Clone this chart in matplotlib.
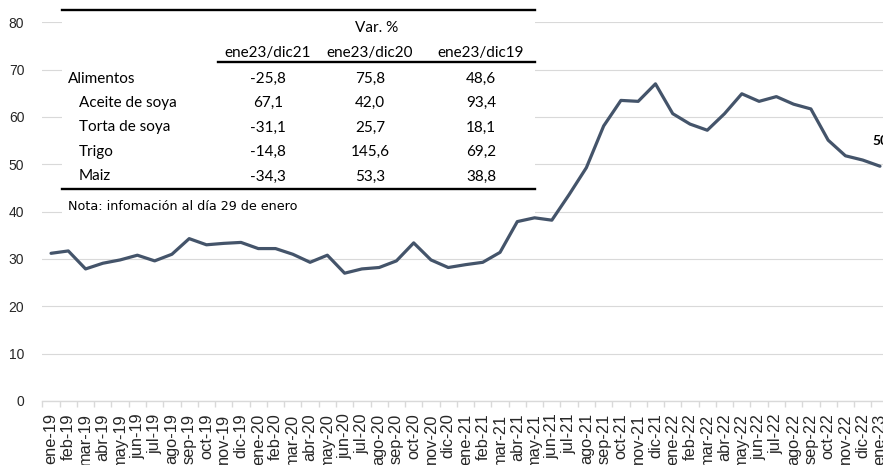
import matplotlib.pyplot as plt
from matplotlib.patches import Rectangle
from matplotlib.lines import Line2D

# serie mensual (indice de precios de alimentos)
meses = ['ene-19', 'feb-19', 'mar-19', 'abr-19', 'may-19', 'jun-19', 'jul-19', 'ago-19',
         'sep-19', 'oct-19', 'nov-19', 'dic-19',
         'ene-20', 'feb-20', 'mar-20', 'abr-20', 'may-20', 'jun-20', 'jul-20', 'ago-20',
         'sep-20', 'oct-20', 'nov-20', 'dic-20',
         'ene-21', 'feb-21', 'mar-21', 'abr-21', 'may-21', 'jun-21', 'jul-21', 'ago-21',
         'sep-21', 'oct-21', 'nov-21', 'dic-21',
         'ene-22', 'feb-22', 'mar-22', 'abr-22', 'may-22', 'jun-22', 'jul-22', 'ago-22',
         'sep-22', 'oct-22', 'nov-22', 'dic-22', 'ene-23']
valores = [31.2, 31.7, 27.9, 29.1, 29.8, 30.8, 29.6, 31.0, 34.3, 33.0, 33.3, 33.5,
           32.2, 32.2, 31.0, 29.3, 30.8, 27.0, 27.9, 28.2, 29.6, 33.4, 29.8, 28.2,
           28.8, 29.3, 31.4, 37.9, 38.7, 38.2, 43.6, 49.3, 58.1, 63.5, 63.3, 67.0,
           60.7, 58.5, 57.2, 60.7, 64.9, 63.3, 64.3, 62.7, 61.7, 55.1, 51.8, 50.9, 49.6]
etiqueta_final = '50'

# tabla de variaciones
columnas = ['ene23/dic21', 'ene23/dic20', 'ene23/dic19']
filas = ['Alimentos', 'Aceite de soya', 'Torta de soya', 'Trigo', 'Maiz']
var_dic21 = ['-25,8', '67,1', '-31,1', '-14,8', '-34,3']
var_dic20 = ['75,8', '42,0', '25,7', '145,6', '53,3']
var_dic19 = ['48,6', '93,4', '18,1', '69,2', '38,8']
nota = 'Nota: infomación al día 29 de enero'

W, H = 883, 465
fig = plt.figure(figsize=(W / 100, H / 100), dpi=100)
ax = fig.add_axes([42.4 / W, 1 - 401 / H, 846.2 / W, (401 - 22.3) / H])

x = list(range(len(meses)))
ax.plot(x, valores, color='#44546A', lw=2.3, solid_joinstyle='round', solid_capstyle='round')

ax.set_xlim(-0.5, len(meses) - 0.5)
ax.set_ylim(0, 80)
ax.set_yticks(range(0, 81, 10))
ax.grid(axis='y', color='#D9D9D9', lw=0.8)
ax.set_axisbelow(True)
for s in ['top', 'right', 'left']:
    ax.spines[s].set_visible(False)
ax.spines['bottom'].set_color('#D9D9D9')
ax.spines['bottom'].set_linewidth(1)

ax.set_xticks(x)
ax.set_xticklabels(meses, rotation=90, fontsize=11.8, family='Liberation Sans', color='#262626')
ax.set_xticks([i - 0.5 for i in range(len(meses) + 1)], minor=True)
ax.tick_params(axis='x', which='major', length=0, pad=9)
ax.tick_params(axis='x', which='minor', length=4, color='#D9D9D9', width=1)
ax.tick_params(axis='y', length=0, pad=13, labelsize=10, labelcolor='#262626')
for t in ax.get_yticklabels():
    t.set_family('Liberation Sans')

ax.annotate(etiqueta_final, (x[-1], valores[-1]), xytext=(-8, 25), textcoords='offset pixels',
            fontsize=10, fontweight='bold', family='Lato', ha='left', va='center')


def fx(px):
    return px / W


def fy(py):
    return 1 - py / H


# fondo blanco de la tabla
fig.patches.append(Rectangle((fx(62), fy(216)), (535 - 62) / W, 216 / H, transform=fig.transFigure,
                             facecolor='white', edgecolor='none', zorder=1))

def regla(x0, x1, y, lw=1.7):
    fig.add_artist(Line2D([fx(x0), fx(x1)], [fy(y), fy(y)], color='black', lw=lw, zorder=2))

regla(62, 535, 10.5)
regla(218, 535, 62)
regla(62, 535, 188.5)

tf = dict(family='Lato', fontsize=11, color='black', zorder=3, va='baseline')
col_x = [268, 370, 481]
fig.text(fx(377), fy(31.5), 'Var. %', ha='center', **tf)
for cx, c in zip(col_x, columnas):
    fig.text(fx(cx), fy(56.5), c, ha='center', **tf)

base = [83, 107, 131.5, 156, 180.5]
for i, f in enumerate(filas):
    lx = 68 if i == 0 else 79
    fig.text(fx(lx), fy(base[i]), f, ha='left', **tf)
    for cx, v in zip(col_x, [var_dic21[i], var_dic20[i], var_dic19[i]]):
        fig.text(fx(cx), fy(base[i]), v, ha='center', **tf)

fig.text(fx(68), fy(210), nota, ha='left', family='DejaVu Sans', fontsize=9.2, color='black',
         zorder=3, va='baseline')

fig.savefig('out.png', dpi=100)
